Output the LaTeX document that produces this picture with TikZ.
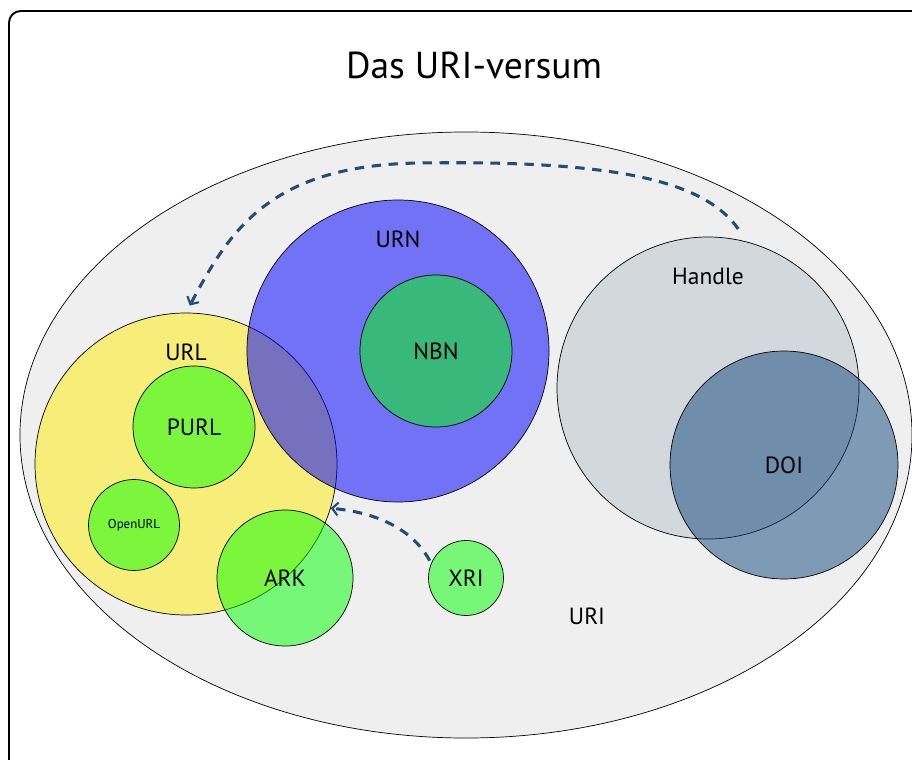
\documentclass[tikz,border=0pt]{standalone}
\usepackage{fontspec}
\setmainfont{PT Sans}
\usepackage{tikz}
\usetikzlibrary{shapes.geometric}
\usetikzlibrary{arrows.meta}

\definecolor{uribg}{HTML}{EFEFEF}
\definecolor{urlyellow}{HTML}{F7EE7A}
\definecolor{urnblue}{RGB}{0,0,255}
\definecolor{idgreen}{RGB}{0,255,0}
\definecolor{handlegrey}{HTML}{D3D8DD}
\definecolor{doiblue}{RGB}{14,70,122}
\definecolor{linkblue}{HTML}{1F4E79}

\begin{document}
\begin{tikzpicture}[x=0.03cm, y=-0.03cm, line width=0.6pt,
    set/.style={circle, draw, inner sep=0pt},
    idset/.style={set, fill=idgreen, fill opacity=0.5, text opacity=1},
    lbl/.style={font=\fontsize{20}{24}\selectfont},
    link/.style={draw=linkblue, line width=2.6pt, dash pattern=on 8pt off 6.5pt,
        -{Straight Barb[length=5pt,width=11pt,line width=1.8pt]}}]

    \useasboundingbox (0,0) rectangle (912,760);
    \clip (0,0) rectangle (912,760);
    \draw[line width=1.6pt, rounded corners=10pt] (9,11) rectangle (940,790);

    \node[font=\fontsize{32}{38}\selectfont] (title) at (474,65) {Das URI-versum};

    % Mengen
    \node[ellipse, draw, fill=uribg, inner sep=0pt, minimum width=26.76cm, minimum height=18.18cm] (uri) at (466,435) {};
    \node[set, fill=urlyellow, minimum size=9.06cm] (url) at (186,464) {};
    \node[set, fill=urnblue, fill opacity=0.52, minimum size=9.06cm] (urn) at (398,351) {};
    \node[idset, minimum size=4.56cm, lbl] (nbn) at (436,351) {NBN};
    \node[idset, minimum size=3.66cm, lbl] (purl) at (194,427) {PURL};
    \node[idset, minimum size=2.73cm, font=\fontsize{11}{13}\selectfont] (openurl) at (134,525) {OpenURL};
    \node[idset, minimum size=4.08cm, lbl] (ark) at (285,578) {ARK};
    \node[idset, minimum size=2.25cm, lbl] (xri) at (466,578) {XRI};
    \node[set, fill=handlegrey, minimum size=9.06cm] (handle) at (708,388) {};
    \node[set, fill=doiblue, fill opacity=0.5, text opacity=1, minimum size=6.84cm, lbl] (doi) at (784,465) {DOI};

    % Beschriftungen
    \node[lbl] (urllbl) at (186,352) {URL};
    \node[lbl] (urnlbl) at (398,239) {URN};
    \node[lbl] (handlelbl) at (708,276) {Handle};
    \node[lbl] (urilbl) at (587,616) {URI};

    % Verweise
    \coordinate (hstart) at ([shift={(4,-10)}]handle.80);
    \draw[link, shorten >=6.8pt] (hstart) .. controls (705,182) and (620,160) .. (420,163)
        .. controls (270,165) and (230,230) .. (url.north);
    \draw[link, shorten <=2.5pt] (xri.157) .. controls (410,525) and (370,512) .. (url.-17);

\end{tikzpicture}
\end{document}
